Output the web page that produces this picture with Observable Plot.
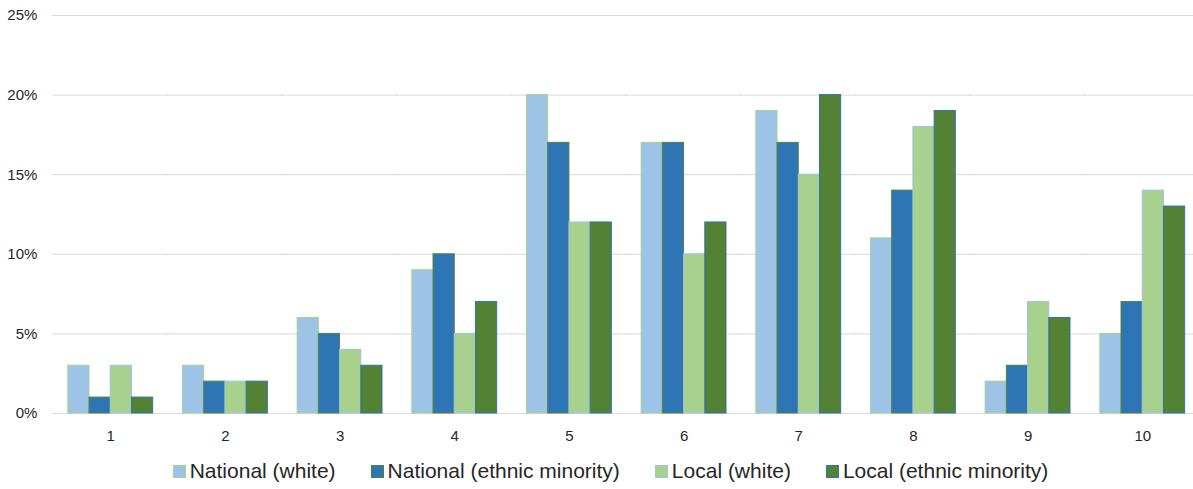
<!DOCTYPE html>
<html>
<head>
<meta charset="utf-8">
<script src="https://cdn.jsdelivr.net/npm/d3@7"></script>
<script src="https://cdn.jsdelivr.net/npm/@observablehq/plot@0.6"></script>
<style>
  html, body { margin: 0; padding: 0; background: #fff; }
  #chart { width: 1193px; }
  .legend { display: flex; justify-content: center; align-items: center; height: 39px; gap: 35px; padding-top: 3px;
            font-family: "Liberation Sans", Arial, sans-serif; font-size: 21px; color: #262626; padding-left: 28px; box-sizing: border-box; width: 1193px; }
  .legend .item { display: flex; align-items: center; }
  .legend .sw { width: 11px; height: 11px; margin-right: 4px; border: 1px solid; }
</style>
</head>
<body>
<div id="chart"></div>
<script>
const categories = ["1", "2", "3", "4", "5", "6", "7", "8", "9", "10"];
const seriesNames = ["National (white)", "National (ethnic minority)", "Local (white)", "Local (ethnic minority)"];
const nationalWhite    = [3, 3, 6, 9, 20, 17, 19, 11, 2, 5];
const nationalMinority = [1, 2, 5, 10, 17, 17, 17, 14, 3, 7];
const localWhite       = [3, 2, 4, 5, 12, 10, 15, 18, 7, 14];
const localMinority    = [1, 2, 3, 7, 12, 12, 20, 19, 6, 13];
const yTicks = [0, 5, 10, 15, 20, 25];

const fills   = ["#9DC3E6", "#2E75B6", "#A9D18E", "#548235"];
const strokes = ["#A9D18E", "#548235", "#9DC3E6", "#2E75B6"];
const seriesValues = [nationalWhite, nationalMinority, localWhite, localMinority];

const data = categories.flatMap((c, i) =>
  seriesNames.map((s, j) => ({category: c, series: s, value: seriesValues[j][i]}))
);

const chart = Plot.plot({
  width: 1193,
  height: 450,
  marginLeft: 53,
  marginRight: 0,
  marginTop: 15,
  marginBottom: 37,
  style: {fontFamily: "Liberation Sans, Arial, sans-serif", fontSize: "15px", color: "#262626", background: "#fff"},
  fx: {domain: categories, paddingInner: 0.26, paddingOuter: 0.101, align: 0.64, round: false, label: null},
  x: {domain: seriesNames, axis: null, padding: 0, round: false},
  y: {domain: [0, 25]},
  marks: [
    Plot.ruleY(yTicks, {stroke: "#d9d9d9", strokeWidth: 1, insetLeft: -16, insetRight: -16}),
    Plot.axisY(yTicks, {tickSize: 0, tickPadding: 31, tickFormat: d => d + "%", label: null, fontSize: 15}),
    Plot.axisFx({anchor: "bottom", tickSize: 0, tickPadding: 17, label: null, fontSize: 15}),
    ...seriesNames.map((s, j) =>
      Plot.barY(data.filter(d => d.series === s), {
        fx: "category", x: "series", y: "value",
        fill: fills[j], stroke: strokes[j], strokeWidth: 1
      })
    )
  ]
});
document.getElementById("chart").appendChild(chart);

const legend = document.createElement("div");
legend.className = "legend";
seriesNames.forEach((s, j) => {
  const item = document.createElement("div");
  item.className = "item";
  const sw = document.createElement("span");
  sw.className = "sw";
  sw.style.background = fills[j];
  sw.style.borderColor = strokes[j];
  const label = document.createElement("span");
  label.textContent = s;
  item.appendChild(sw);
  item.appendChild(label);
  legend.appendChild(item);
});
document.getElementById("chart").appendChild(legend);
</script>
</body>
</html>
